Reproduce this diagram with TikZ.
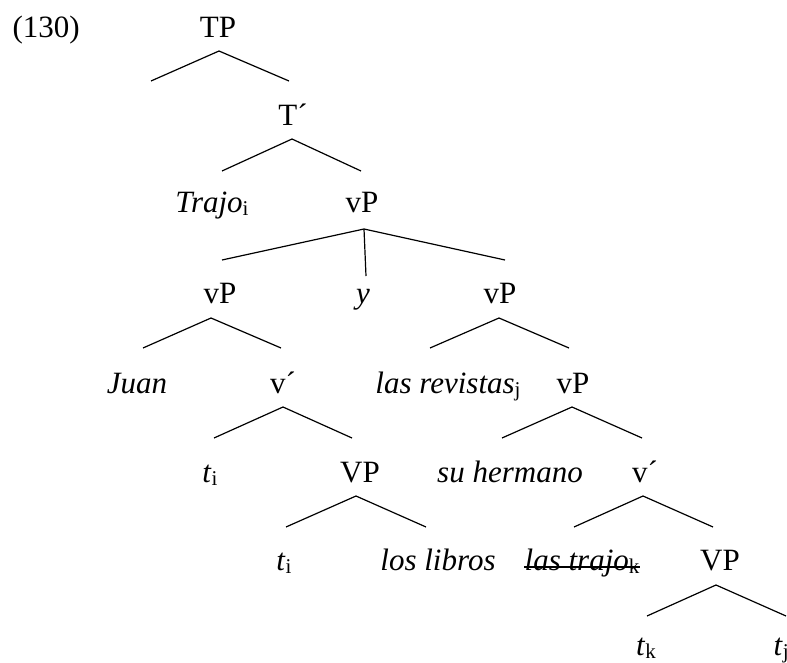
\documentclass[tikz,border=0pt]{standalone}
\usepackage{fontspec}
\setmainfont{Liberation Serif}
\usepackage{tikz}
\newcommand{\idx}[1]{\raisebox{-3pt}{\fontsize{21}{24}\selectfont\upshape #1}}

\begin{document}
\begin{tikzpicture}[x=1pt, y=-1pt, line width=1.2pt,
  cat/.style={anchor=base, inner sep=0pt},
  lex/.style={anchor=base, inner sep=0pt, font=\itshape}]
\useasboundingbox (0,0) rectangle (787,663);
\fontsize{31}{37}\selectfont
% labels
\node[cat, anchor=base west] (ex) at (12,38) {(130)};
\node[cat] (tp) at (218,38) {TP};
\node[cat] (tbar) at (293,126) {T´};
\node[cat] (trajo) at (212,213) {\textit{Trajo}\idx{i}};
\node[cat] (vpTop) at (362,213) {vP};
\node[cat] (vpL) at (220,303) {vP};
\node[lex] (conj) at (363,303) {y};
\node[cat] (vpR) at (500,303) {vP};
\node[lex] (juan) at (137,393) {Juan};
\node[cat] (vbarL) at (283,393) {v´};
\node[cat] (revistas) at (448,393) {\textit{las revistas}\idx{j}};
\node[cat] (vpLow) at (573,393) {vP};
\node[cat] (tiA) at (210,482) {\textit{t}\idx{i}};
\node[cat] (VPL) at (360,482) {VP};
\node[lex] (hermano) at (510,482) {su hermano};
\node[cat] (vbarR) at (645,482) {v´};
\node[cat] (tiB) at (284,570) {\textit{t}\idx{i}};
\node[lex] (libros) at (438,570) {los libros};
\node[cat] (strike) at (582,570) {\textit{las trajo}\idx{k}};
\node[cat] (VPR) at (720,570) {VP};
\node[cat] (tk) at (646,655) {\textit{t}\idx{k}};
\node[cat, anchor=base west] (tj) at (773,655) {\textit{t}\idx{j}};
\draw ([yshift=3pt]strike.base west) -- ([yshift=3pt]strike.base east);
% branch points
\coordinate (tpA) at (219,51);   \coordinate (tpL) at (151,81);   \coordinate (tpR) at (289,81);
\coordinate (tbA) at (292,139);  \coordinate (tbL) at (222,171);  \coordinate (tbR) at (361,171);
\coordinate (vtA) at (364,229);  \coordinate (vtL) at (222,260);  \coordinate (vtM) at (366,276);
\coordinate (vtR) at (505,260);
\coordinate (vlA) at (211,318);  \coordinate (vlL) at (143,348);  \coordinate (vlR) at (281,348);
\coordinate (vrA) at (499,318);  \coordinate (vrL) at (430,348);  \coordinate (vrR) at (569,348);
\coordinate (blA) at (283,407);  \coordinate (blL) at (214,438);  \coordinate (blR) at (352,438);
\coordinate (vwA) at (572,407);  \coordinate (vwL) at (502,438);  \coordinate (vwR) at (642,438);
\coordinate (plA) at (356,496);  \coordinate (plL) at (286,527);  \coordinate (plR) at (426,527);
\coordinate (brA) at (643,496);  \coordinate (brL) at (574,527);  \coordinate (brR) at (713,527);
\coordinate (prA) at (716,585);  \coordinate (prL) at (647,616);  \coordinate (prR) at (786,616);
% branches
\draw (tpL) -- (tpA) -- (tpR);
\draw (tbL) -- (tbA) -- (tbR);
\draw (vtL) -- (vtA) -- (vtR);
\draw (vtA) -- (vtM);
\draw (vlL) -- (vlA) -- (vlR);
\draw (vrL) -- (vrA) -- (vrR);
\draw (blL) -- (blA) -- (blR);
\draw (vwL) -- (vwA) -- (vwR);
\draw (plL) -- (plA) -- (plR);
\draw (brL) -- (brA) -- (brR);
\draw (prL) -- (prA) -- (prR);
\end{tikzpicture}
\end{document}
